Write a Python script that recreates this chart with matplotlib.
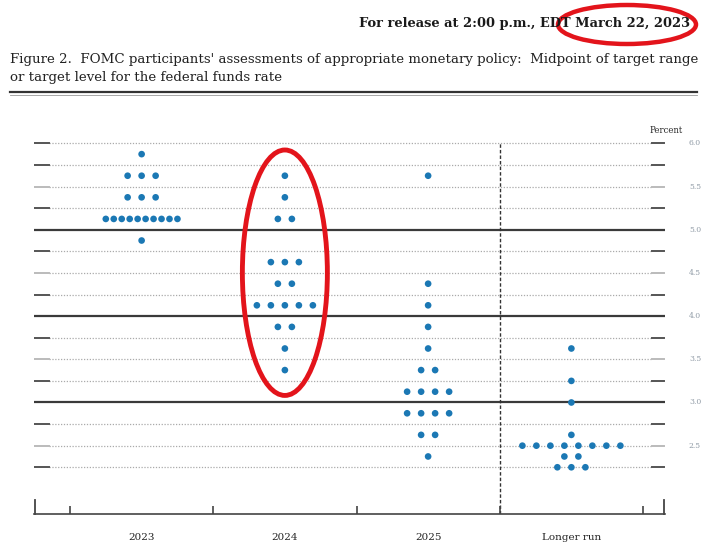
import matplotlib
matplotlib.use("Agg")
import matplotlib.pyplot as plt
from matplotlib.patches import Ellipse
from matplotlib.lines import Line2D
import numpy as np

# ---- data ----
categories = ["2023", "2024", "2025", "Longer run"]
rates_2023 = [5.875, 5.625, 5.375, 5.125, 4.875]
counts_2023 = [1, 3, 3, 10, 1]
rates_2024 = [5.625, 5.375, 5.125, 4.625, 4.375, 4.125, 3.875, 3.625, 3.375]
counts_2024 = [1, 1, 2, 3, 2, 5, 2, 1, 1]
rates_2025 = [5.625, 4.375, 4.125, 3.875, 3.625, 3.375, 3.125, 2.875, 2.625, 2.375]
counts_2025 = [1, 1, 1, 1, 1, 2, 4, 4, 2, 1]
rates_lr = [3.625, 3.25, 3.0, 2.625, 2.5, 2.375, 2.25]
counts_lr = [1, 1, 1, 1, 8, 2, 3]
grid_levels = [2.25, 2.5, 2.75, 3.0, 3.25, 3.5, 3.75, 4.0, 4.25, 4.5, 4.75, 5.0, 5.25, 5.5, 5.75, 6.0]
major_levels = [3.0, 4.0, 5.0]
right_labels = ["6.0", "5.5", "5.0", "4.5", "4.0", "3.5", "3.0", "2.5"]
right_label_vals = [6.0, 5.5, 5.0, 4.5, 4.0, 3.5, 3.0, 2.5]

columns = [(rates_2023, counts_2023), (rates_2024, counts_2024),
           (rates_2025, counts_2025), (rates_lr, counts_lr)]

W, H = 703, 544
fig = plt.figure(figsize=(W / 100, H / 100), dpi=100)
fig.patch.set_facecolor("white")

serif = ["DejaVu Serif"]

# header
fig.text(690 / W, 1 - 23 / H, "For release at 2:00 p.m., EDT March 22, 2023",
         ha="right", va="center", fontsize=9.35, fontweight="bold", family=serif, color="#1a1a1a")
fig.text(10 / W, 1 - 60 / H,
         "Figure 2.  FOMC participants' assessments of appropriate monetary policy:  Midpoint of target range",
         ha="left", va="center", fontsize=9.6, family=serif, color="#222222")
fig.text(10 / W, 1 - 77 / H, "or target level for the federal funds rate",
         ha="left", va="center", fontsize=9.6, family=serif, color="#222222")
fig.add_artist(Line2D([10 / W, 697 / W], [1 - 92 / H, 1 - 92 / H], transform=fig.transFigure,
                      color="#333333", lw=1.6))
fig.add_artist(Line2D([10 / W, 697 / W], [1 - 94.5 / H, 1 - 94.5 / H], transform=fig.transFigure,
                      color="#999999", lw=0.6))

# date ellipse (inches)
fig.add_artist(Ellipse((627 / 100, (H - 24.5) / 100), 1.38, 0.39,
                       transform=fig.dpi_scale_trans, fill=False, edgecolor="#e3141b", lw=3.2))

# axes geometry
px_per_x = 143.25
x_left = -0.5 - 36 / px_per_x
x_right = 3.5 + 22 / px_per_x
y_bot, y_top = 1.709, 6.10
ax = fig.add_axes([34 / W, (H - 514) / H, (665 - 34) / W, (514 - 134.7) / H])
ax.set_xlim(x_left, x_right)
ax.set_ylim(y_bot, y_top)
for s in ["top", "left", "right"]:
    ax.spines[s].set_visible(False)
ax.spines["bottom"].set_color("#444444")
ax.spines["bottom"].set_linewidth(1.2)
ax.set_yticks([])

xl_in = x_left + 15 / px_per_x
xr_in = x_left + 618 / px_per_x
for lv in grid_levels:
    if lv in major_levels:
        ax.plot([x_left, x_right - 1 / px_per_x], [lv, lv], color="#3a3a3a", lw=1.6, zorder=1)
    else:
        tick_col = "#bbbbbb" if abs(lv * 2 - round(lv * 2)) < 1e-9 and lv % 1 != 0 else "#555555"
        ax.plot([xl_in, xr_in], [lv, lv], color="#aaaaaa", lw=0.9, linestyle=(0, (1, 1.3)), zorder=1)
        ax.plot([x_left, xl_in], [lv, lv], color=tick_col, lw=1.4, zorder=1)
        ax.plot([xr_in, x_right - 1 / px_per_x], [lv, lv], color=tick_col, lw=1.4, zorder=1)

# vertical dashed separator
ax.plot([2.5, 2.5], [y_bot, 6.0], color="#333333", lw=1.0, linestyle=(0, (2.5, 1.5)), zorder=1)

# bottom ticks
boundaries = [-0.5, 0.5, 1.5, 2.5, 3.5]
ax.set_xticks(boundaries)
ax.set_xticklabels([])
ax.tick_params(axis="x", which="major", direction="in", length=6, width=1.2, color="#444444")
ax.set_xticks(range(len(categories)), minor=True)
ax.set_xticklabels(categories, minor=True, family=serif, fontsize=7.5, color="#222222")
ax.tick_params(axis="x", which="minor", length=0, pad=13.5)
end_h = 14 / 86.4
ax.plot([x_left + 0.6 / px_per_x] * 2, [y_bot, y_bot + end_h], color="#444444", lw=1.3, clip_on=False)
ax.plot([x_right - 0.6 / px_per_x] * 2, [y_bot, y_bot + end_h], color="#444444", lw=1.3, clip_on=False)

# right labels
for lab, v in zip(right_labels, right_label_vals):
    ax.text(x_right + 30 / px_per_x, v, lab, ha="center", va="center", fontsize=5.5,
            family=serif, color="#8f9aa5", clip_on=False)
ax.text(x_right + 1 / px_per_x, 6.0 + 13 / 86.4, "Percent", ha="center", va="center",
        fontsize=6.2, family=serif, color="#2a2a2a", clip_on=False)

# dots
normal_sp = 14 / px_per_x
tight_sp = 7.96 / px_per_x
for ci, (rates, counts) in enumerate(columns):
    xs, ys = [], []
    for r, n in zip(rates, counts):
        sp = normal_sp if n <= 8 else tight_sp
        for i in range(n):
            xs.append(ci + (i - (n - 1) / 2) * sp)
            ys.append(r)
    ax.scatter(xs, ys, s=23, color="#1b78b4", edgecolors="none", zorder=3)

# 2024 ellipse
ax.add_patch(Ellipse((1.0, 6.0 - (272.7 - 143.3) / 86.4), 85 / px_per_x, 245.5 / 86.4,
                     fill=False, edgecolor="#e3141b", lw=3.5, zorder=4, clip_on=False))

fig.savefig("out.png", dpi=100)
